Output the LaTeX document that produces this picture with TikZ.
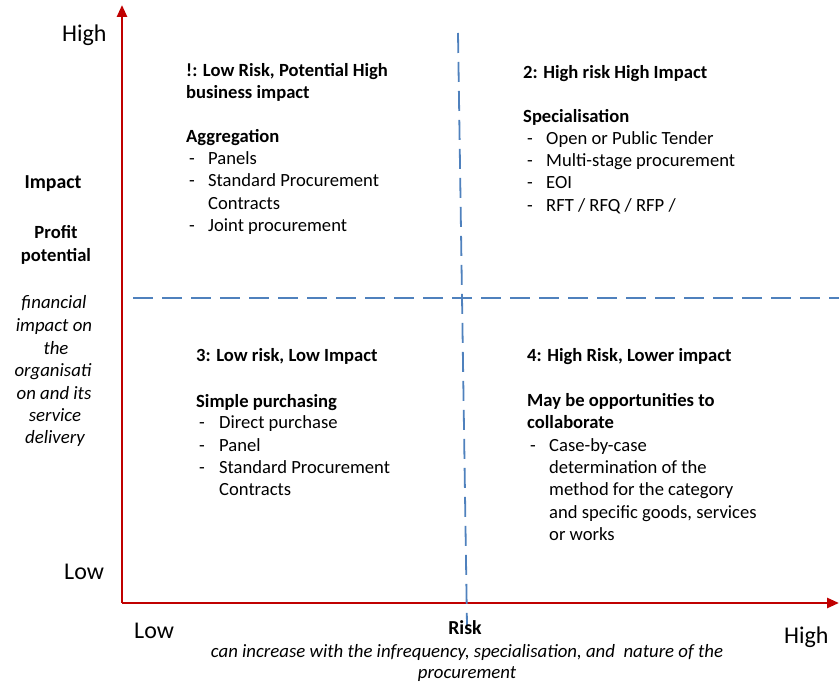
\documentclass[tikz,border=0pt]{standalone}
\usepackage{fontspec}
\setmainfont{Carlito}
\usetikzlibrary{arrows.meta}
\definecolor{axisred}{RGB}{192,0,0}
\definecolor{dashblue}{RGB}{79,129,189}
\tikzset{
  axis/.style={draw=axisred,line width=2.6pt,-{Triangle[length=12pt,width=10pt]}},
  divider/.style={draw=dashblue,line width=1.8pt,dash pattern=on 20pt off 9pt},
  body/.style={inner sep=0pt,anchor=base west,font=\fontsize{18.6}{22}\selectfont},
  bodyb/.style={body,font=\fontsize{18.6}{22}\selectfont\bfseries},
  side/.style={inner sep=0pt,anchor=base,font=\fontsize{18.6}{22}\selectfont},
  sideb/.style={side,font=\fontsize{18.6}{22}\selectfont\bfseries},
  sidebig/.style={side,font=\fontsize{19.8}{22}\selectfont\bfseries},
  sidei/.style={side,font=\fontsize{18.8}{22}\selectfont\itshape},
  big/.style={inner sep=0pt,anchor=base west,font=\fontsize{24}{28}\selectfont},
}
\begin{document}
\begin{tikzpicture}[x=1pt,y=-1pt]
\useasboundingbox (0,0) rectangle (839,684);
% axes
\coordinate (o) at (122,603);
\coordinate (ytop) at (122,5);
\coordinate (xend) at (839,603);
\draw[axis] (o) -- (ytop);
\draw[axis] (o) -- (xend);
% dividers
\coordinate (vt) at (458,33);
\coordinate (vb) at (467,626);
\coordinate (hl) at (133,298);
\coordinate (hr) at (839,298);
\draw[divider] (vt) -- (vb);
\draw[divider] (hl) -- (hr);
% axis value labels
\node[big] (yhigh) at (62,42) {High};
\node[big] (ylow) at (64,580) {Low};
\node[big] (xlow) at (134,638) {Low};
\node[big] (xhigh) at (784,644) {High};
% y axis title
\node[sidebig] (imp) at (53,189) {Impact};
\node[sideb] (prof1) at (56,239) {Profit};
\node[sideb] (prof2) at (56,262) {potential};
\node[sidei] (fi1) at (54,309) {financial};
\node[sidei] (fi2) at (54,332) {impact on};
\node[sidei] (fi3) at (56,355) {the};
\node[sidei] (fi4) at (53,377) {organisati};
\node[sidei] (fi5) at (54,400) {on and its};
\node[sidei] (fi6) at (55,422) {service};
\node[sidei] (fi7) at (55,444) {delivery};
% x axis title
\node[sidebig] (risk) at (465,634) {Risk};
\node[sidei] (rd1) at (467,657) {can increase with the infrequency, specialisation, and\ \ nature of the};
\node[sidei] (rd2) at (467,678) {procurement};
% quadrant 1
\node[bodyb] (q1t1) at (186,77) {!: Low Risk, Potential High};
\node[bodyb] (q1t2) at (186,99) {business impact};
\node[bodyb] (q1h) at (186,143) {Aggregation};
\node[body] (q1d1) at (189,165) {-};
\node[body] (q1i1) at (208,165) {Panels};
\node[body] (q1d2) at (189,187) {-};
\node[body] (q1i2) at (208,187) {Standard Procurement};
\node[body] (q1i2b) at (208,210) {Contracts};
\node[body] (q1d3) at (189,232) {-};
\node[body] (q1i3) at (208,232) {Joint procurement};
% quadrant 2
\node[bodyb] (q2t) at (523,79) {2: High risk High Impact};
\node[bodyb] (q2h) at (523,123) {Specialisation};
\node[body] (q2d1) at (527,145) {-};
\node[body] (q2i1) at (546,145) {Open or Public Tender};
\node[body] (q2d2) at (527,167) {-};
\node[body] (q2i2) at (546,167) {Multi-stage procurement};
\node[body] (q2d3) at (527,189) {-};
\node[body] (q2i3) at (546,189) {EOI};
\node[body] (q2d4) at (527,212) {-};
\node[body] (q2i4) at (546,212) {RFT / RFQ / RFP /};
% quadrant 3
\node[bodyb] (q3t) at (196,362) {3: Low risk, Low Impact};
\node[bodyb] (q3h) at (196,408) {Simple purchasing};
\node[body] (q3d1) at (199,429) {-};
\node[body] (q3i1) at (219,429) {Direct purchase};
\node[body] (q3d2) at (199,452) {-};
\node[body] (q3i2) at (219,452) {Panel};
\node[body] (q3d3) at (199,474) {-};
\node[body] (q3i3) at (219,474) {Standard Procurement};
\node[body] (q3i3b) at (219,496) {Contracts};
% quadrant 4
\node[bodyb] (q4t) at (527,362) {4: High Risk, Lower impact};
\node[bodyb] (q4h1) at (527,407) {May be opportunities to};
\node[bodyb] (q4h2) at (527,429) {collaborate};
\node[body] (q4d1) at (530,452) {-};
\node[body] (q4i1) at (549,452) {Case-by-case};
\node[body] (q4i2) at (549,474) {determination of the};
\node[body] (q4i3) at (549,496) {method for the category};
\node[body] (q4i4) at (549,519) {and specific goods, services};
\node[body] (q4i5) at (549,541) {or works};
\end{tikzpicture}
\end{document}
